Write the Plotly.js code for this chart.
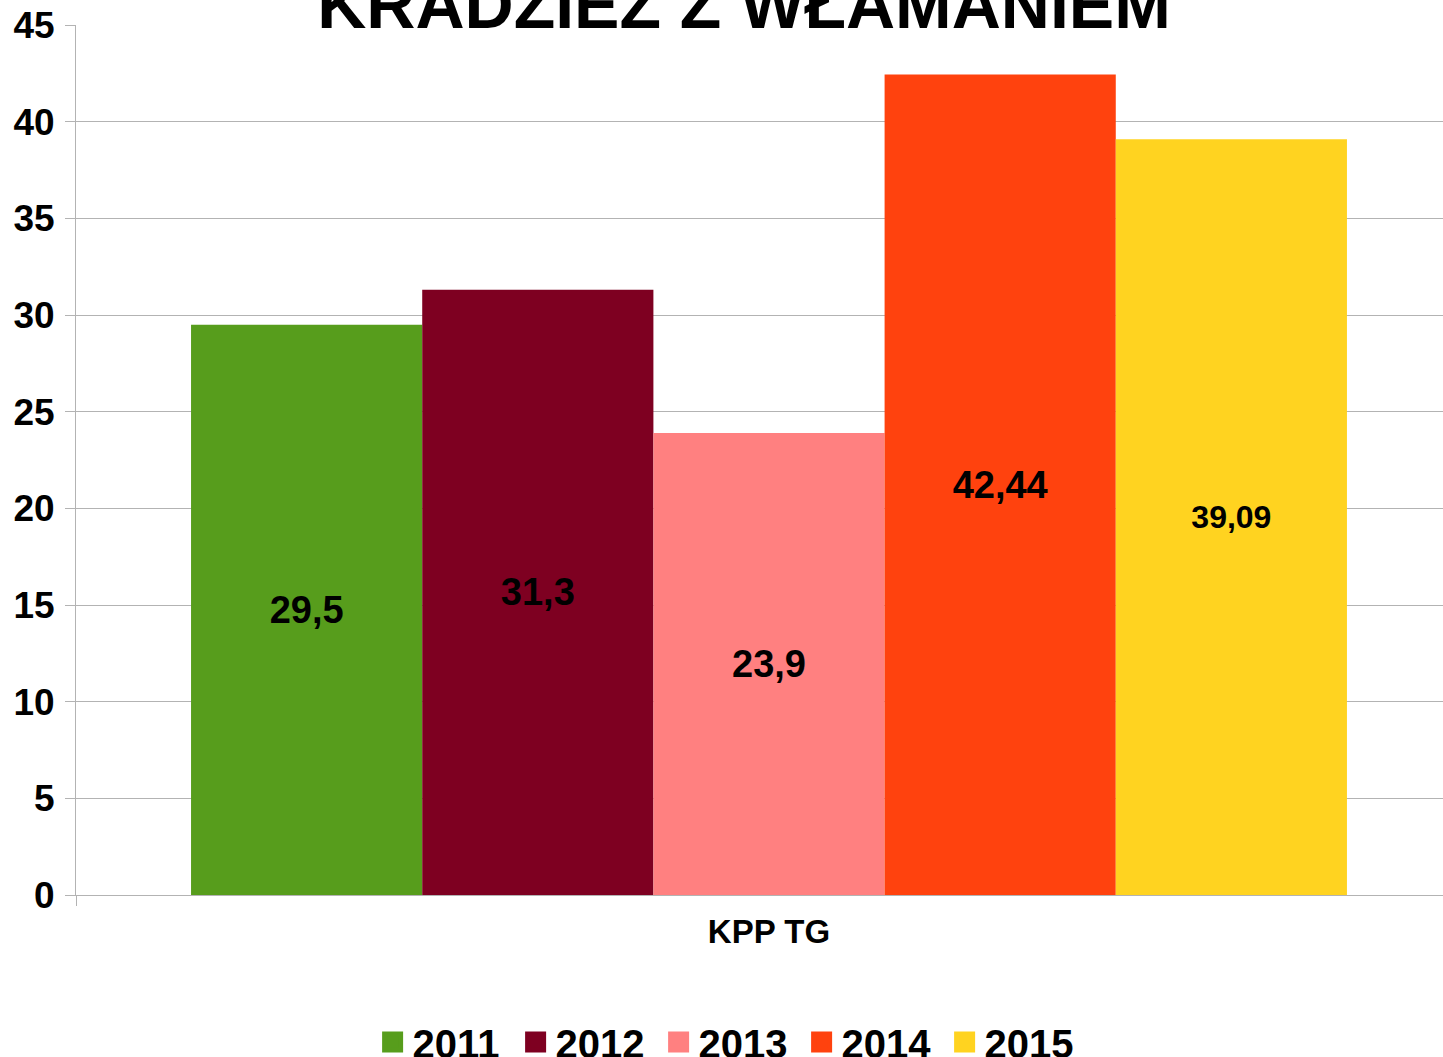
<!DOCTYPE html>
<html>
<head>
<meta charset="utf-8">
<script src="https://cdn.plot.ly/plotly-3.0.1.min.js"></script>
<style>html,body{margin:0;padding:0;background:#fff;}#chart{width:1443px;height:1057px;}</style>
</head>
<body>
<div id="chart"></div>
<script>
var categories = ['KPP TG'];
var years = ['2011', '2012', '2013', '2014', '2015'];
var values = [29.5, 31.3, 23.9, 42.44, 39.09];
var valueLabels = ['29,5', '31,3', '23,9', '42,44', '39,09'];
var colors = ['#579d1c', '#7e0021', '#ff8080', '#ff420e', '#ffd320'];
var labelSizes = [38, 38, 38, 38, 32];
var yTicks = [0, 5, 10, 15, 20, 25, 30, 35, 40, 45];

var FONT = 'Liberation Sans, Arial, sans-serif';
var traces = [];
years.forEach(function (yr, i) {
  traces.push({
    type: 'bar',
    name: yr,
    x: categories,
    y: [values[i]],
    text: [valueLabels[i]],
    textposition: 'inside',
    insidetextanchor: 'middle',
    textangle: 0,
    textfont: {family: FONT, size: labelSizes[i], color: '#000000', weight: 'bold'},
    marker: {color: colors[i], line: {width: 0}},
    legendgroup: yr,
    showlegend: false,
    hoverinfo: 'skip'
  });
});
years.forEach(function (yr, i) {
  traces.push({
    type: 'scatter',
    mode: 'markers',
    name: yr,
    x: [null],
    y: [null],
    marker: {symbol: 'square', size: 16, color: colors[i], line: {width: 5, color: colors[i]}},
    legendgroup: yr,
    showlegend: true,
    hoverinfo: 'skip'
  });
});

var layout = {
  width: 1443,
  height: 1057,
  paper_bgcolor: '#ffffff',
  plot_bgcolor: '#ffffff',
  margin: {l: 76, r: 0, t: 25, b: 162, autoexpand: false},
  font: {family: FONT, color: '#000000'},
  title: {
    text: 'KRADZIEŻ Z WŁAMANIEM',
    font: {family: FONT, size: 68, color: '#000000', weight: 'bold'},
    xref: 'paper', x: 0.4887, xanchor: 'center',
    yref: 'container', y: 0.9962, yanchor: 'middle'
  },
  barmode: 'group',
  bargap: 0.166,
  bargroupgap: 0,
  showlegend: true,
  legend: {
    orientation: 'h',
    xref: 'paper', x: 0.4785, xanchor: 'center',
    yref: 'paper', y: -0.169, yanchor: 'middle',
    font: {family: FONT, size: 40, color: '#000000', weight: 'bold'},
    entrywidth: 98,
    entrywidthmode: 'pixels',
    bgcolor: 'rgba(0,0,0,0)'
  },
  xaxis: {
    type: 'category',
    range: [-0.5, 0.4863],
    showline: true,
    linecolor: '#b3b3b3',
    linewidth: 1,
    showgrid: false,
    ticks: 'outside',
    tickson: 'boundaries',
    ticklen: 10,
    tickcolor: '#b3b3b3',
    tickfont: {family: FONT, size: 33, color: '#000000', weight: 'bold'},
    ticklabelstandoff: 7,
    zeroline: false
  },
  yaxis: {
    range: [0, 45],
    tickvals: yTicks,
    ticktext: yTicks.map(String),
    showline: true,
    linecolor: '#b3b3b3',
    linewidth: 1,
    showgrid: true,
    gridcolor: '#b3b3b3',
    gridwidth: 1,
    ticks: 'outside',
    ticklen: 10,
    tickcolor: '#b3b3b3',
    tickfont: {family: FONT, size: 37, color: '#000000', weight: 'bold'},
    ticklabelstandoff: 3,
    zeroline: false
  }
};

Plotly.newPlot('chart', traces, layout, {displayModeBar: false, staticPlot: true});
</script>
</body>
</html>
